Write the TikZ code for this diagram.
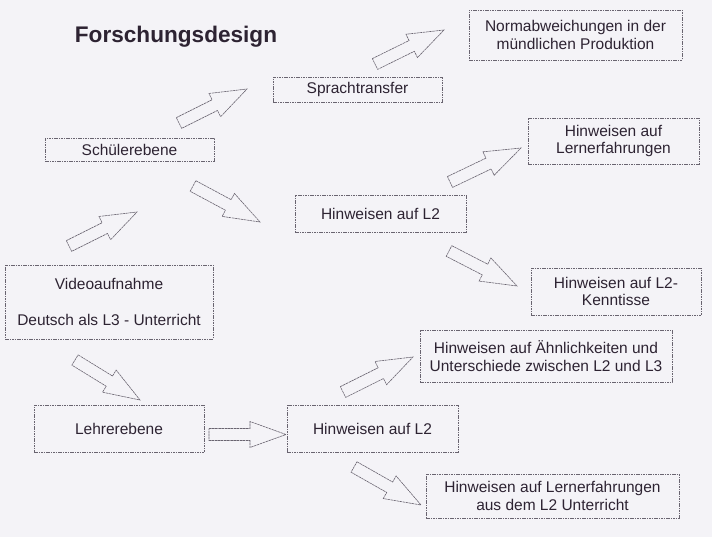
\documentclass[tikz,border=0pt]{standalone}
\usepackage{fontspec}
\setmainfont{Liberation Sans}
\usetikzlibrary{calc}
\definecolor{paper}{RGB}{244,243,247}
\definecolor{ink}{RGB}{45,35,50}
\definecolor{edge}{RGB}{105,100,112}
\tikzset{
  box/.style={draw=edge, line width=0.7pt, dash pattern=on 1.6pt off 0.8pt,
    align=center, inner sep=0pt, text=ink, font=\fontsize{15.5}{17.5}\selectfont},
  arrowline/.style={draw=edge, line width=0.6pt, dash pattern=on 2.5pt off 0.6pt, line join=miter},
}
\newcommand\blockarrow[2]{%
  \coordinate (hb) at ($(#2)!36pt!(#1)$);
  \draw[arrowline] ($(#1)!6pt!90:(#2)$) -- ($(hb)!6pt!-90:(#1)$) -- ($(hb)!13pt!-90:(#1)$) -- (#2)
    -- ($(hb)!13pt!90:(#1)$) -- ($(hb)!6pt!90:(#1)$) -- ($(#1)!6pt!-90:(#2)$) -- cycle;
}
\begin{document}
\begin{tikzpicture}[x=1pt,y=-1pt]
\fill[paper] (0,0) rectangle (712,537);
\useasboundingbox (0,0) rectangle (712,537);

\node[anchor=base, text=ink, font=\fontsize{22.6}{26}\selectfont\bfseries] (title) at (176,43) {Forschungsdesign};

\node[box, minimum width=169, minimum height=25] (sprach) at (357.5,89.5) {Sprachtransfer};
\node[box, minimum width=213, minimum height=50] (norm) at (575.5,35) {Normabweichungen in der\\mündlichen Produktion};
\node[box, minimum width=169, minimum height=23] (schueler) at (129.5,149.5) {Schülerebene};
\node[box, minimum width=171, minimum height=46] (lernerf) at (613.5,141) {Hinweisen auf\\Lernerfahrungen};
\node[box, minimum width=171, minimum height=37] (hlzweia) at (380.5,213.5) {Hinweisen auf L2};
\node[box, minimum width=208, minimum height=74] (video) at (109,302) {Videoaufnahme\\[18.5pt]Deutsch als L3 - Unterricht};
\node[box, minimum width=170, minimum height=47] (kennt) at (616,291.5) {Hinweisen auf L2-\\Kenntisse};
\node[box, minimum width=252, minimum height=52] (aehnl) at (546,356) {Hinweisen auf Ähnlichkeiten und\\Unterschiede zwischen L2 und L3};
\node[box, minimum width=170, minimum height=47] (lehrer) at (119,428.5) {Lehrerebene};
\node[box, minimum width=171, minimum height=47] (hlzweib) at (372.5,428.5) {Hinweisen auf L2};
\node[box, minimum width=253, minimum height=44] (lernlz) at (552.5,496) {Hinweisen auf Lernerfahrungen\\aus dem L2 Unterricht};

\coordinate (a1s) at (179,123);   \coordinate (a1e) at (247,89);
\coordinate (a2s) at (375,64);    \coordinate (a2e) at (444,30);
\coordinate (a3s) at (69,246);    \coordinate (a3e) at (137,212);
\coordinate (a4s) at (193,186);   \coordinate (a4e) at (260,222);
\coordinate (a5s) at (450,182);   \coordinate (a5e) at (521,148);
\coordinate (a6s) at (449,251);   \coordinate (a6e) at (517,286);
\coordinate (a7s) at (75,360);    \coordinate (a7e) at (140,400);
\coordinate (a8s) at (209,434.5); \coordinate (a8e) at (286,434.5);
\coordinate (a9s) at (343,392);   \coordinate (a9e) at (413,357);
\coordinate (a10s) at (354,467);  \coordinate (a10e) at (421,505);

\blockarrow{a1s}{a1e}
\blockarrow{a2s}{a2e}
\blockarrow{a3s}{a3e}
\blockarrow{a4s}{a4e}
\blockarrow{a5s}{a5e}
\blockarrow{a6s}{a6e}
\blockarrow{a7s}{a7e}
\blockarrow{a8s}{a8e}
\blockarrow{a9s}{a9e}
\blockarrow{a10s}{a10e}
\end{tikzpicture}
\end{document}
